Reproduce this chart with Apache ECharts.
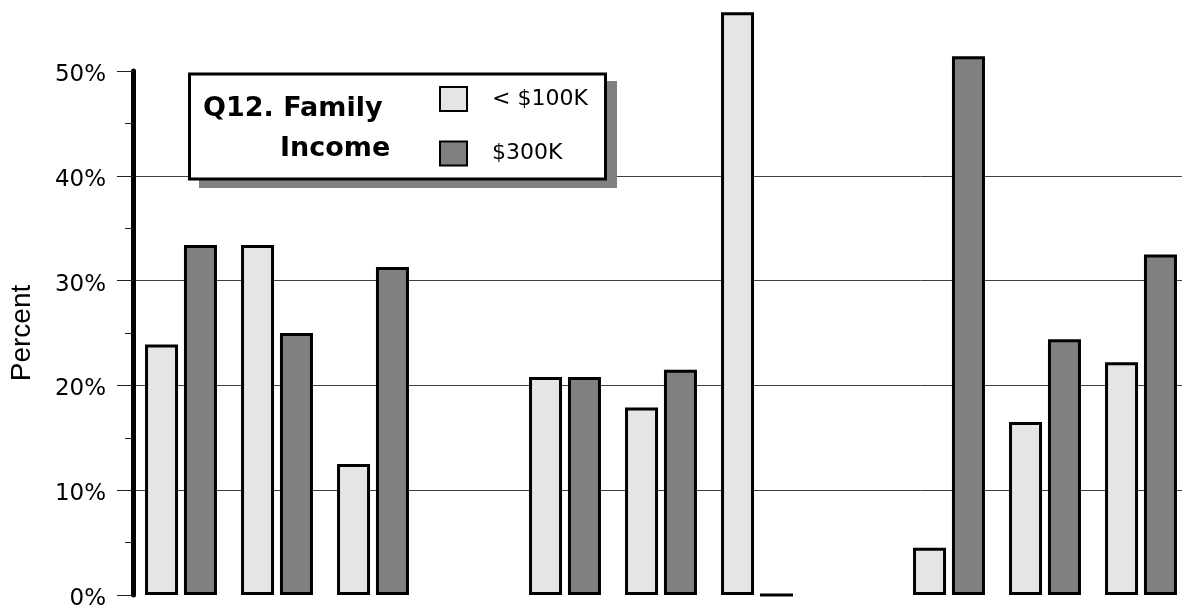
<!DOCTYPE html>
<html>
<head>
<meta charset="utf-8">
<script src="https://cdn.jsdelivr.net/npm/echarts@6/dist/echarts.min.js"></script>
<style>
  html, body { margin: 0; padding: 0; background: #fff; }
  #chart { width: 1182px; height: 607px; }
</style>
</head>
<body>
<div id="chart"></div>
<script>
// Response slots along the category axis (two of them carry no answers)
const categories = ['1', '2', '3', '4', '5', '6', '7', '8', '9', '10', '11'];
// Percent of respondents per income band
const under100k = [23.9, 33.4, 12.5, null, 20.8, 17.9, 55.6, null, 4.5, 16.5, 22.2];
const over300k  = [33.4, 25.0, 31.3, null, 20.8, 21.5, 0,    null, 51.4, 24.4, 32.5];
const seriesNames = ['< $100K', '$300K'];
const titleLines = ['Q12. Family', 'Income'];
const yAxisName = 'Percent';

const chart = echarts.init(document.getElementById('chart'), null, { renderer: 'canvas' });

const barBase = {
  type: 'bar',
  barWidth: 33,
  barGap: '18%',
  clip: false,
  animation: false
};

chart.setOption({
  animation: false,
  backgroundColor: '#ffffff',
  grid: { left: 133, right: -7, top: 71, bottom: 12, containLabel: false, outerBoundsMode: 'none' },
  xAxis: {
    type: 'category',
    data: categories,
    axisLine: { show: false },
    axisTick: { show: false },
    axisLabel: { show: false },
    splitLine: { show: false }
  },
  yAxis: {
    type: 'value',
    min: 0,
    max: 50,
    interval: 10,
    name: yAxisName,
    nameLocation: 'middle',
    nameRotate: 90,
    nameGap: 97,
    nameTextStyle: { fontFamily: 'Liberation Sans', fontSize: 28, color: '#000' },
    axisLine: { show: true, lineStyle: { color: '#000', width: 5 } },
    axisTick: { show: true, length: 16, lineStyle: { color: '#222', width: 1 } },
    minorTick: { show: true, splitNumber: 2, length: 8, lineStyle: { color: '#222', width: 1 } },
    axisLabel: {
      margin: 27,
      fontFamily: 'DejaVu Sans',
      fontSize: 23,
      color: '#000',
      verticalAlign: 'top',
      lineHeight: 8,
      formatter: v => v + '%'
    },
    splitLine: {
      show: true,
      showMinLine: false,
      showMaxLine: false,
      lineStyle: { color: '#404040', width: 1 }
    }
  },
  legend: {
    z: 20,
    orient: 'vertical',
    left: 439,
    top: 86,
    padding: 0,
    itemWidth: 27,
    itemHeight: 24,
    itemGap: 28.5,
    icon: 'rect',
    itemStyle: { borderColor: '#000', borderWidth: 2 },
    textStyle: {
      fontFamily: 'DejaVu Sans',
      fontSize: 22,
      lineHeight: 22,
      color: '#000',
      width: 100,
      align: 'center',
      padding: [0, 0, 0, 20]
    },
    data: seriesNames
  },
  graphic: [
    {
      type: 'rect',
      z: 10,
      shape: { x: 199, y: 81, width: 418, height: 107 },
      style: { fill: '#808080' }
    },
    {
      type: 'rect',
      z: 11,
      shape: { x: 189.5, y: 74, width: 416, height: 105 },
      style: { fill: '#ffffff', stroke: '#000', lineWidth: 3 }
    },
    {
      type: 'text',
      z: 12,
      left: 203,
      top: 95,
      style: { text: titleLines[0], font: 'bold 27px "DejaVu Sans"', fill: '#000' }
    },
    {
      type: 'text',
      z: 12,
      left: 280,
      top: 135,
      style: { text: titleLines[1], font: 'bold 27px "DejaVu Sans"', fill: '#000' }
    }
  ],
  series: [
    Object.assign({}, barBase, {
      name: seriesNames[0],
      data: under100k,
      itemStyle: { color: '#e5e5e5', borderColor: '#000', borderWidth: 3 }
    }),
    Object.assign({}, barBase, {
      name: seriesNames[1],
      data: over300k,
      itemStyle: { color: '#808080', borderColor: '#000', borderWidth: 3 }
    })
  ]
});
</script>
</body>
</html>
